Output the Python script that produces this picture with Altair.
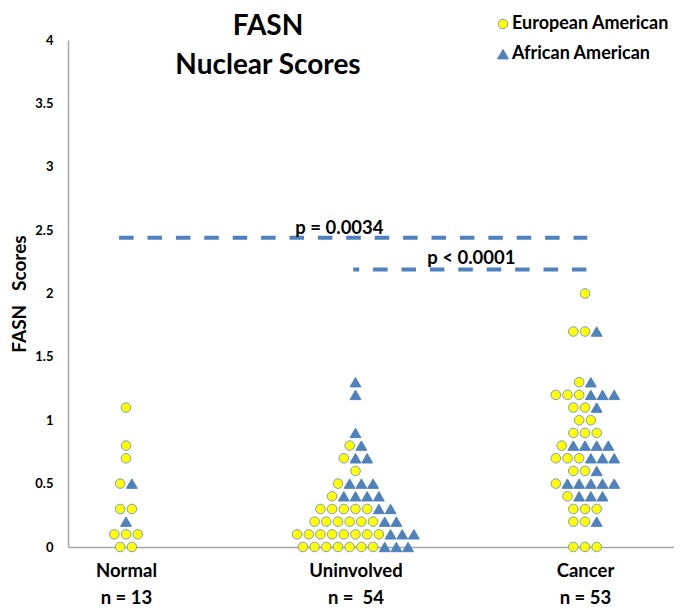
import json
import altair as alt
import pandas as pd

# ---------------- data ----------------
groups = ["Normal", "Uninvolved", "Cancer"]
n_labels = ["n = 13", "n =\u00a0 54", "n = 53"]
races = ["European American", "African American"]

normal_ea = [1.1, 0.8, 0.7, 0.5, 0.3, 0.3, 0.1, 0.1, 0.1, 0.0, 0.0]
normal_aa = [0.5, 0.2]

uninvolved_ea = [0.8, 0.7, 0.6, 0.5, 0.4,
                 0.3, 0.3, 0.3, 0.3, 0.3,
                 0.2, 0.2, 0.2, 0.2, 0.2, 0.2,
                 0.1, 0.1, 0.1, 0.1, 0.1, 0.1, 0.1, 0.1,
                 0.0, 0.0, 0.0, 0.0, 0.0, 0.0, 0.0]
uninvolved_aa = [1.3, 1.2, 0.9, 0.8, 0.7, 0.7,
                 0.5, 0.5, 0.5,
                 0.4, 0.4, 0.4, 0.4,
                 0.3, 0.3, 0.2, 0.2,
                 0.1, 0.1, 0.1,
                 0.0, 0.0, 0.0]

cancer_ea = [2.0, 1.7, 1.7, 1.3, 1.2, 1.2, 1.2, 1.1, 1.1, 1.0, 1.0,
             0.9, 0.9, 0.9, 0.8, 0.7, 0.7, 0.7, 0.6, 0.6, 0.5, 0.4,
             0.3, 0.3, 0.3, 0.2, 0.2, 0.0, 0.0, 0.0]
cancer_aa = [1.7, 1.3, 1.2, 1.2, 1.2, 1.1,
             0.8, 0.8, 0.8, 0.8, 0.7, 0.7, 0.7, 0.6,
             0.5, 0.5, 0.5, 0.5, 0.5, 0.4, 0.4, 0.4, 0.2]

# comparison bars and p-values
cmp_start = [-0.03, 0.99]
cmp_end = [2.01, 2.01]
cmp_y = [2.44, 2.19]
p_text = ["p = 0.0034", "p < 0.0001"]
p_x = [0.93, 1.505]
p_y = [2.52, 2.28]

y_ticks = [0, 0.5, 1, 1.5, 2, 2.5, 3, 3.5, 4]

# ---------------- tables ----------------
rows = []
series = [
    (0, races[0], normal_ea), (0, races[1], normal_aa),
    (1, races[0], uninvolved_ea), (1, races[1], uninvolved_aa),
    (2, races[0], cancer_ea), (2, races[1], cancer_aa),
]
for gidx, race, vals in series:
    for v in vals:
        rows.append({"gidx": gidx, "group": groups[gidx], "race": race,
                     "race_order": races.index(race), "value": v})
df = pd.DataFrame(rows)

cmp_df = pd.DataFrame({"id": [0, 1], "x1": cmp_start, "x2": cmp_end, "y": cmp_y})
p_df = pd.DataFrame({"label": p_text, "x": p_x, "y": p_y})

# ---------------- layout constants ----------------
FONT = "Lato"
BLUE = "#4F81BD"
YELLOW = "#FFFF00"
AXIS_GREY = "#A6A6A6"
STEP = 0.0509          # horizontal spacing between neighbouring markers (category units)
XDOM = [-0.2527, 2.3878]

xscale = alt.Scale(domain=XDOM, nice=False, zero=False)
yscale = alt.Scale(domain=[0, 4], nice=False, zero=False)

label_expr = "[" + json.dumps(groups) + "[datum.value], " + json.dumps(n_labels) + "[datum.value]]"

x_axis = alt.Axis(values=[0, 1, 2], labelExpr=label_expr, grid=False, ticks=False,
                  domainColor=AXIS_GREY, domainWidth=1.5, labelFont=FONT,
                  labelFontWeight="bold", labelFontSize=18.5, labelColor="black",
                  labelPadding=14, labelLineHeight=27, labelBaseline="top",
                  labelOverlap=False, title="")
y_axis = alt.Axis(values=y_ticks, format="~g", grid=False, ticks=False,
                  domainColor=AXIS_GREY, domainWidth=1.5, labelFont=FONT,
                  labelFontWeight="bold", labelFontSize=13, labelColor="black",
                  labelPadding=15, title="FASN\u00a0\u00a0\u00a0Scores", titleFont=FONT,
                  titleFontSize=19, titleFontWeight="bold", titleColor="black",
                  titleAngle=270, titleX=-49, titleY=253.5, titleAlign="center",
                  titleBaseline="middle")

points = (
    alt.Chart(df)
    .transform_window(rank="row_number()", groupby=["gidx", "value"],
                      sort=[alt.SortField("race_order", order="ascending")])
    .transform_joinaggregate(n="count()", groupby=["gidx", "value"])
    .transform_calculate(xpos=f"datum.gidx + (datum.rank - (datum.n + 1) / 2) * {STEP}")
    .mark_point(filled=True, opacity=1, strokeWidth=1)
    .encode(
        x=alt.X("xpos:Q", scale=xscale, axis=x_axis),
        y=alt.Y("value:Q", scale=yscale, axis=y_axis),
        shape=alt.Shape("race:N", title="",
                        scale=alt.Scale(domain=races, range=["circle", "triangle-up"])),
        fill=alt.Fill("race:N", title="",
                      scale=alt.Scale(domain=races, range=[YELLOW, BLUE])),
        stroke=alt.Stroke("race:N", title="",
                          scale=alt.Scale(domain=races, range=["#7F9CC0", BLUE])),
        size=alt.Size("race:N", title="",
                      scale=alt.Scale(domain=races, range=[92, 118])),
    )
)

rule_base = alt.Chart(cmp_df).encode(
    x=alt.X("x1:Q", scale=xscale), x2="x2:Q", y=alt.Y("y:Q", scale=yscale))
rule_top = rule_base.transform_filter("datum.id == 0").mark_rule(
    color=BLUE, strokeWidth=4, strokeDash=[14.5, 13.9])
rule_low = rule_base.transform_filter("datum.id == 1").mark_rule(
    color=BLUE, strokeWidth=4, strokeDash=[14.5, 13.9], strokeDashOffset=8.5)

ptext = alt.Chart(p_df).mark_text(font=FONT, fontWeight="bold", fontSize=18.5,
                                  color="black", align="center", baseline="middle").encode(
    x=alt.X("x:Q", scale=xscale), y=alt.Y("y:Q", scale=yscale), text="label:N")

chart = (
    alt.layer(rule_top, rule_low, ptext, points)
    .properties(
        width=606, height=507,
        autosize=alt.AutoSizeParams(type="none"),
        padding={"left": 60, "top": 32, "right": 0, "bottom": 61},
        title=alt.TitleParams(["FASN", "Nuclear Scores"], font=FONT, fontSize=28,
                              fontWeight="bold", color="black", anchor="middle",
                              frame="group", dx=-103, dy=65, offset=0, lineHeight=39),
    )
    .configure_view(stroke=None)
    .configure_legend(orient="none", legendX=426, legendY=-25, padding=0,
                      labelFont=FONT, labelFontSize=18, labelFontWeight="bold",
                      labelColor="black", labelOffset=0, rowPadding=12.2,
                      symbolStrokeWidth=1, labelLimit=300)
)

chart.save("out.html", embed_options={"renderer": "svg", "actions": False})
